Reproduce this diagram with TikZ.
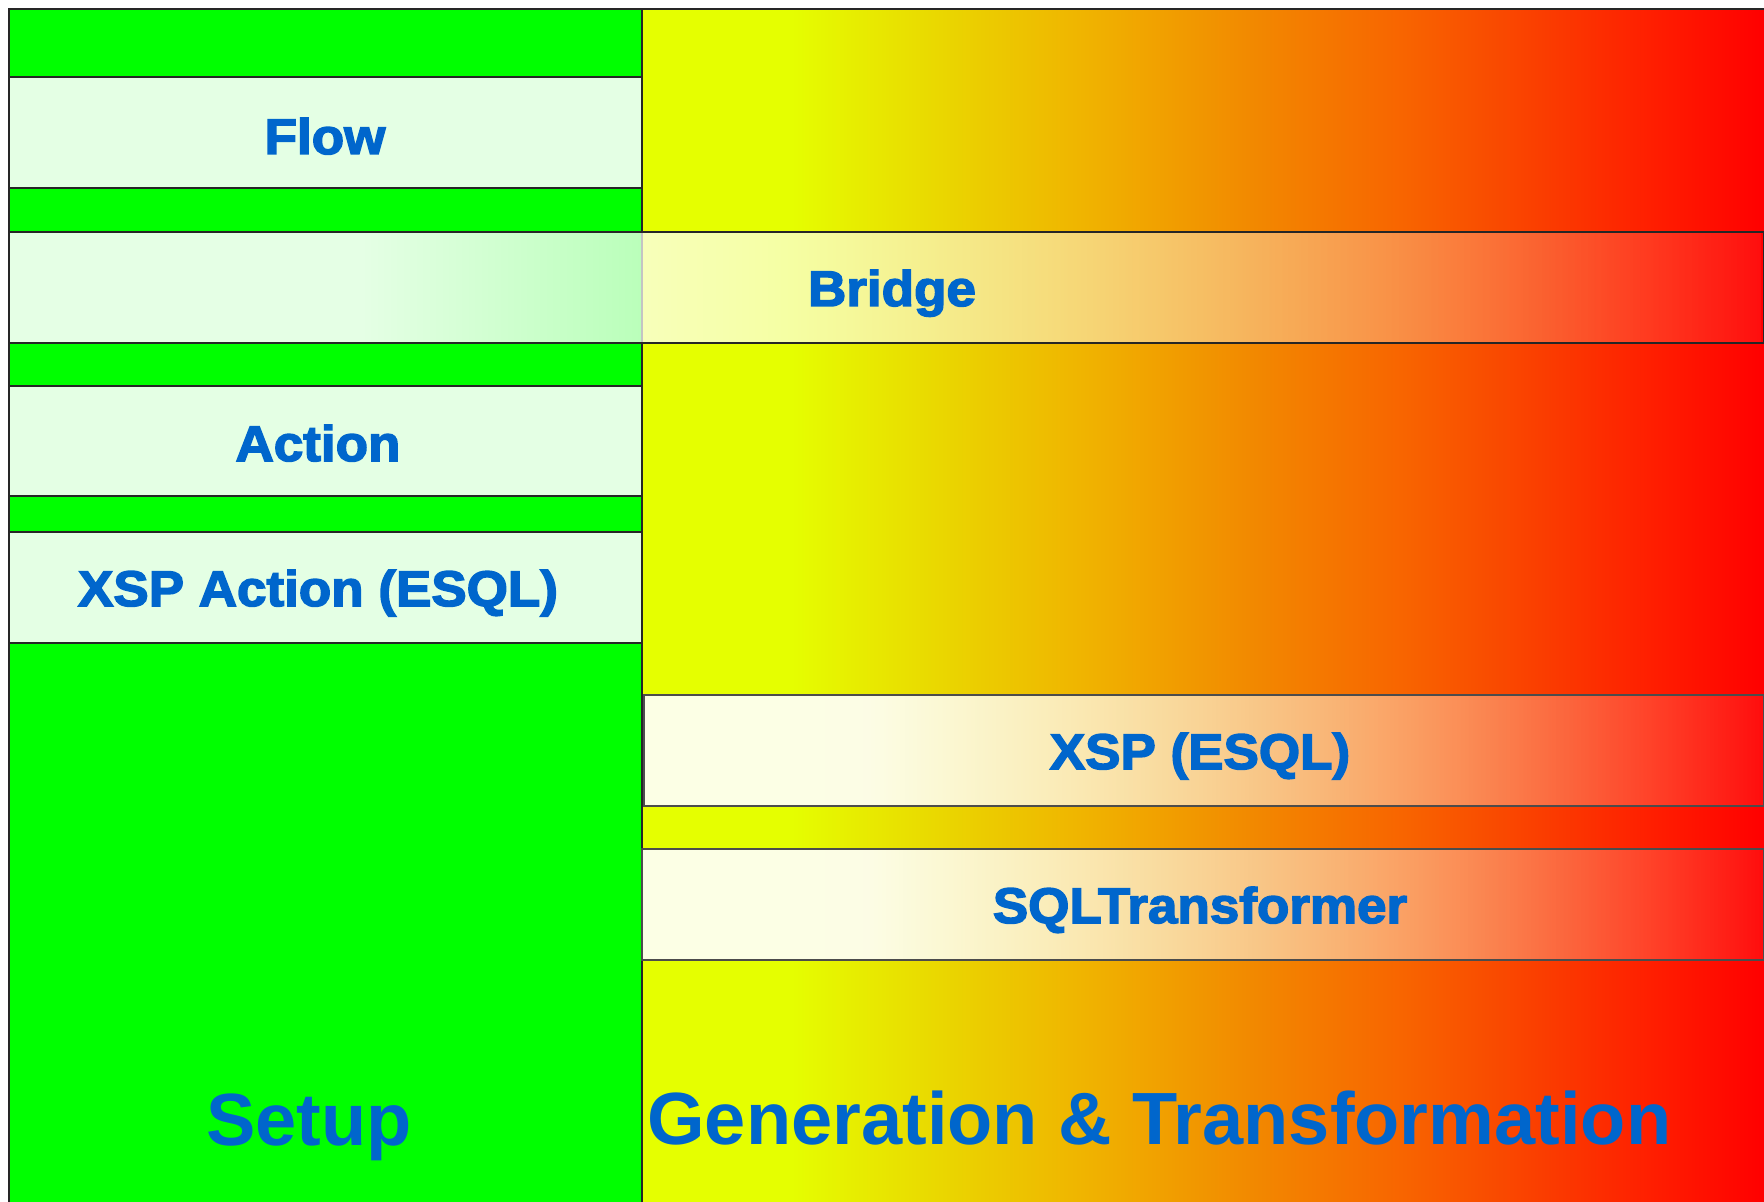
\documentclass[tikz,border=0pt]{standalone}
\usepackage{fontspec}
\setmainfont{Liberation Sans}
\newfontfamily\blackfont{Liberation Sans Bold}[FakeBold=3, FakeStretch=1.06]
\usetikzlibrary{fadings}

\definecolor{setupgreen}{RGB}{0,255,0}
\definecolor{palegreen}{RGB}{228,255,228}
\definecolor{labelblue}{RGB}{0,102,204}
\definecolor{rampA}{RGB}{229,255,0}
\definecolor{rampB}{RGB}{235,205,0}
\definecolor{rampC}{RGB}{240,178,0}
\definecolor{rampD}{RGB}{242,135,0}
\definecolor{rampE}{RGB}{248,100,0}
\definecolor{rampF}{RGB}{250,62,0}
\definecolor{rampG}{RGB}{255,30,0}
\definecolor{rampH}{RGB}{255,0,0}

\pgfdeclarehorizontalshading{rampshade}{100bp}{color(0bp)=(rampA); color(25bp)=(rampA);
  color(31.5bp)=(rampA); color(40bp)=(rampB); color(45bp)=(rampC); color(52.5bp)=(rampD);
  color(59bp)=(rampE); color(65bp)=(rampF); color(70bp)=(rampG); color(75bp)=(rampH);
  color(100bp)=(rampH)}
\pgfdeclarehorizontalshading{veilshade}{100bp}{color(0bp)=(white!90!black);
  color(35bp)=(white!90!black); color(75bp)=(white!5!black); color(100bp)=(white!5!black)}
\pgfdeclarefading{veilfade}{\pgfuseshading{veilshade}}

\tikzset{
  edgeline/.style={draw=black!85, line width=0.75pt},
  veil/.style={fill=white, path fading=veilfade},
  boxlabel/.style={text=labelblue, font=\blackfont\fontsize{25}{30}\selectfont, anchor=base},
  titlelabel/.style={text=labelblue, font=\bfseries\fontsize{37}{44}\selectfont,
    anchor=base west, inner sep=0pt}
}

\begin{document}
\begin{tikzpicture}[x=0.5pt, y=-0.5pt]
  \useasboundingbox (0,0) rectangle (1764,1202);
  \fill[white] (0,0) rectangle (1764,1202);

  %% panels
  \fill[setupgreen] (9,9) rectangle (642,1202);
  \shade[shading=rampshade] (642,9) rectangle (1764,1202);
  \draw[edgeline] (9,1202) -- (9,9) -- (1764,9);
  \draw[edgeline] (642,9) -- (642,1202);

  %% setup side
  \filldraw[edgeline, fill=palegreen] (9,77) rectangle (642,188);
  \filldraw[edgeline, fill=palegreen] (9,386) rectangle (642,496);
  \filldraw[edgeline, fill=palegreen] (9,532) rectangle (642,643);

  %% bridge
  \fill[veil] (9,232) rectangle (1764,343);
  \draw[edgeline] (9,232) rectangle (1764,343);

  %% generation side
  \fill[veil] (644,695) rectangle (1764,806);
  \draw[edgeline, draw=black!70] (644,695) rectangle (1764,806);
  \fill[veil] (642,849) rectangle (1764,960);
  \draw[edgeline, draw=black!70] (642,849) rectangle (1764,960);

  %% labels
  \node[boxlabel] (flow)   at (325,154) {Flow};
  \node[boxlabel] (bridge) at (892,306) {Bridge};
  \node[boxlabel] (action) at (318,461) {Action};
  \node[boxlabel] (xspact) at (318,606) {XSP Action (ESQL)};
  \node[boxlabel] (xsp)    at (1200,769) {XSP (ESQL)};
  \node[boxlabel] (sqltr)  at (1200,923) {SQLTransformer};

  \node[titlelabel] (setup)    at (206,1145) {Setup};
  \node[titlelabel] (gentrans) at (647,1144) {Generation \& Transformation};
\end{tikzpicture}
\end{document}
